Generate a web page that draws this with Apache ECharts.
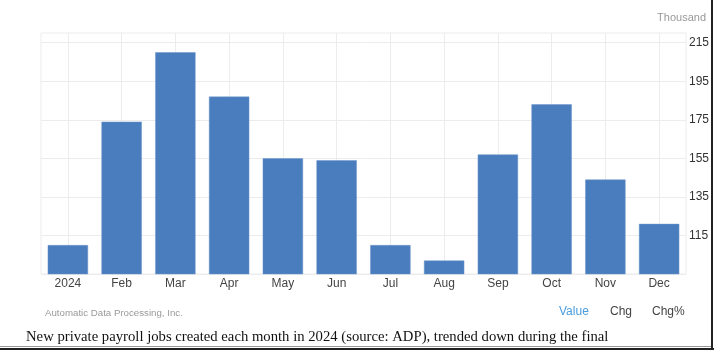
<!DOCTYPE html>
<html>
<head>
<meta charset="utf-8">
<script src="https://cdn.jsdelivr.net/npm/echarts@6/dist/echarts.min.js"></script>
<style>
  html, body { margin: 0; padding: 0; background: #fff; }
  #chart { width: 715px; height: 353px; }
</style>
</head>
<body>
<div id="chart"></div>
<script>
// 月份
const months = ['2024', 'Feb', 'Mar', 'Apr', 'May', 'Jun', 'Jul', 'Aug', 'Sep', 'Oct', 'Nov', 'Dec'];
// 新增就业人数 (千)
const jobs = [110, 174, 210, 187, 155, 154, 110, 102, 157, 183, 144, 121];
// y轴刻度
const yTicks = [115, 135, 155, 175, 195, 215];
// 底部按钮
const tabs = ['Value', 'Chg', 'Chg%'];

const chartDom = document.getElementById('chart');
const myChart = echarts.init(chartDom);

const gridColor = '#ececec';
const sans = 'Liberation Sans, Arial, sans-serif';

let option;
option = {
    animation: false,
    grid: {
        left: 41,
        right: 29,
        top: 33,
        bottom: 79,
        show: true,
        borderColor: gridColor,
        borderWidth: 1
    },
    xAxis: {
        type: 'category',
        data: months,
        axisLine: { show: false },
        axisTick: { show: false },
        axisLabel: {
            color: '#444',
            fontFamily: sans,
            fontSize: 12,
            margin: 4
        },
        splitLine: {
            show: true,
            // 竖线对准柱子中间
            alignWithLabel: true,
            lineStyle: { color: gridColor, width: 1 }
        }
    },
    yAxis: {
        type: 'value',
        position: 'right',
        min: 95,
        max: 220,
        interval: 5,
        name: 'Thousand',
        nameLocation: 'end',
        nameGap: 0,
        nameTextStyle: {
            color: '#999',
            fontFamily: sans,
            fontSize: 11,
            align: 'right',
            verticalAlign: 'bottom',
            padding: [0, -20, 10, 0]
        },
        axisLine: { show: false },
        axisTick: { show: false },
        axisLabel: {
            color: '#333',
            fontFamily: sans,
            fontSize: 12,
            margin: 3,
            formatter: function (v) {
                return yTicks.indexOf(v) >= 0 ? String(v) : '';
            }
        },
        splitLine: {
            show: true,
            // 只在 115,135,... 画线
            lineStyle: { color: [gridColor, 'transparent', 'transparent', 'transparent'], width: 1 }
        }
    },
    series: [
        {
            type: 'bar',
            data: jobs,
            barWidth: '75%',
            itemStyle: {
                color: '#4a7dbd',
                borderColor: '#6f97cc',
                borderWidth: 0.5
            }
        }
    ],
    graphic: [
        {
            type: 'text',
            left: 45,
            top: 308,
            style: {
                text: 'Automatic Data Processing, Inc.',
                fill: '#999',
                font: '9.7px ' + sans
            }
        },
        {
            type: 'text',
            left: 559,
            top: 306,
            style: { text: tabs[0], fill: '#4a9de0', font: '12px ' + sans }
        },
        {
            type: 'text',
            left: 610,
            top: 306,
            style: { text: tabs[1], fill: '#444', font: '12px ' + sans }
        },
        {
            type: 'text',
            left: 652,
            top: 306,
            style: { text: tabs[2], fill: '#444', font: '12px ' + sans }
        },
        {
            type: 'text',
            left: 26,
            top: 330,
            style: {
                text: 'New private payroll jobs created each month in 2024 (source: ADP), trended down during the final',
                fill: '#111',
                font: '14.7px "Liberation Serif", "Times New Roman", serif'
            }
        },
        // 外框
        {
            type: 'rect',
            shape: { x: 0, y: 346, width: 712, height: 1 },
            style: { fill: '#999' }
        },
        {
            type: 'rect',
            shape: { x: 0, y: 348, width: 714, height: 2 },
            style: { fill: '#222' }
        },
        {
            type: 'rect',
            shape: { x: 711, y: 0, width: 2, height: 350 },
            style: { fill: '#222' }
        }
    ]
};

option && myChart.setOption(option);
</script>
</body>
</html>
